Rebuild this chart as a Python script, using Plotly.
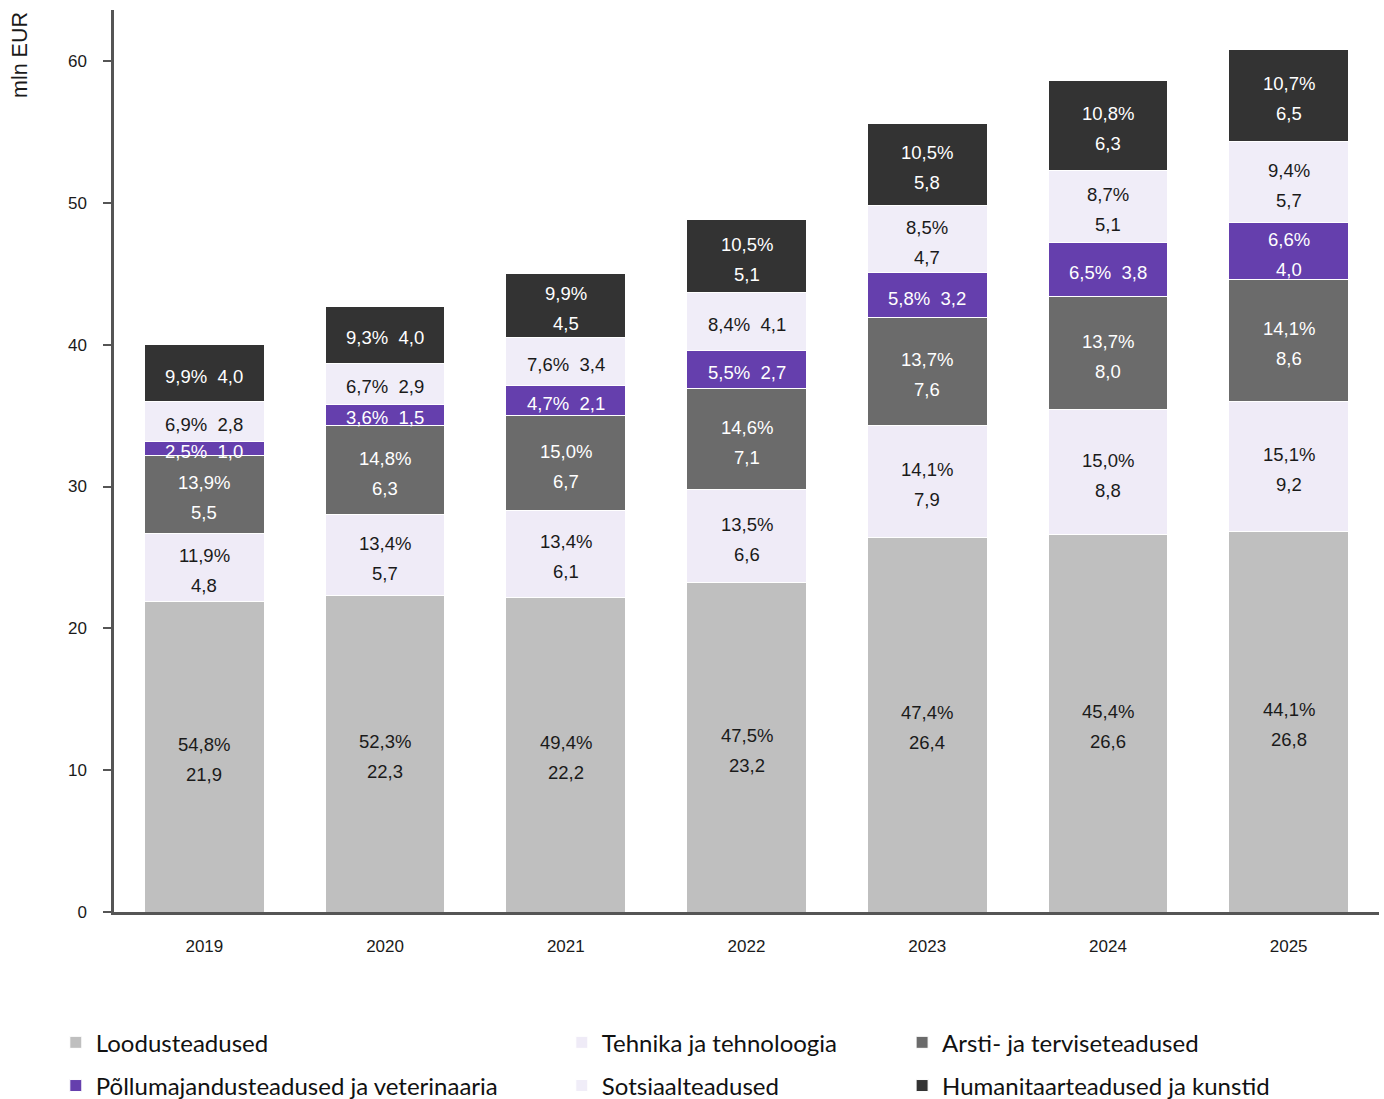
import plotly.graph_objects as go
import numpy as np

years = ["2019", "2020", "2021", "2022", "2023", "2024", "2025"]

series_names = [
    "Loodusteadused",
    "Tehnika ja tehnoloogia",
    "Arsti- ja terviseteadused",
    "Põllumajandusteadused ja veterinaaria",
    "Sotsiaalteadused",
    "Humanitaarteadused ja kunstid",
]

loodus_val = [21.9, 22.3, 22.2, 23.2, 26.4, 26.6, 26.8]
loodus_pct = [54.8, 52.3, 49.4, 47.5, 47.4, 45.4, 44.1]
tehnika_val = [4.8, 5.7, 6.1, 6.6, 7.9, 8.8, 9.2]
tehnika_pct = [11.9, 13.4, 13.4, 13.5, 14.1, 15.0, 15.1]
arsti_val = [5.5, 6.3, 6.7, 7.1, 7.6, 8.0, 8.6]
arsti_pct = [13.9, 14.8, 15.0, 14.6, 13.7, 13.7, 14.1]
pollu_val = [1.0, 1.5, 2.1, 2.7, 3.2, 3.8, 4.0]
pollu_pct = [2.5, 3.6, 4.7, 5.5, 5.8, 6.5, 6.6]
sots_val = [2.8, 2.9, 3.4, 4.1, 4.7, 5.1, 5.7]
sots_pct = [6.9, 6.7, 7.6, 8.4, 8.5, 8.7, 9.4]
hum_val = [4.0, 4.0, 4.5, 5.1, 5.8, 6.3, 6.5]
hum_pct = [9.9, 9.3, 9.9, 10.5, 10.5, 10.8, 10.7]

values = [loodus_val, tehnika_val, arsti_val, pollu_val, sots_val, hum_val]
pcts = [loodus_pct, tehnika_pct, arsti_pct, pollu_pct, sots_pct, hum_pct]

# segments whose label is written on one line (series index, year)
inline_labels = {(3, "2019"), (4, "2019"), (5, "2019"),
                 (3, "2020"), (4, "2020"), (5, "2020"),
                 (3, "2021"), (4, "2021"),
                 (3, "2022"), (4, "2022"),
                 (3, "2023"), (3, "2024")}

colors = ["#bfbfbf", "#efebf7", "#6b6b6b", "#653fad", "#f0edf8", "#333333"]
text_colors = ["#1a1a1a", "#1a1a1a", "#ffffff", "#ffffff", "#1a1a1a", "#ffffff"]
legend_ids = ["legend", "legend2", "legend3", "legend", "legend2", "legend3"]

def fmt(v):
    return f"{v:.1f}".replace(".", ",")

xpos = list(range(len(years)))

fig = go.Figure()
for i, name in enumerate(series_names):
    fig.add_trace(go.Bar(
        x=xpos, y=values[i], name=name,
        marker=dict(color=colors[i], line=dict(color="#ffffff", width=1)),
        legend=legend_ids[i], legendgroup=f"g{i}",
        hoverinfo="skip",
    ))

# labels
base = np.zeros(len(years))
annotations = []
for i in range(len(series_names)):
    v = np.array(values[i])
    mid = base + v / 2
    for j, yr in enumerate(years):
        p = fmt(pcts[i][j]) + "%"
        val = fmt(values[i][j])
        font = dict(family="Liberation Sans, Arial, sans-serif", size=18.5, color=text_colors[i])
        if (i, yr) in inline_labels:
            annotations.append(dict(x=xpos[j], y=float(mid[j]), xref="x", yref="y", yshift=-3,
                                    text=p + "\u00a0\u00a0" + val, showarrow=False, font=font))
        else:
            annotations.append(dict(x=xpos[j], y=float(mid[j]), xref="x", yref="y", yshift=12,
                                    text=p, showarrow=False, font=font))
            annotations.append(dict(x=xpos[j], y=float(mid[j]), xref="x", yref="y", yshift=-18,
                                    text=val, showarrow=False, font=font))
    base = base + v

annotations.append(dict(text="mln EUR", x=-0.0743, y=1.0, xref="paper", yref="paper",
                        xanchor="center", yanchor="top", textangle=-90, showarrow=False,
                        font=dict(family="Liberation Sans, Arial, sans-serif", size=21.5, color="#1a1a1a")))

legend_font = dict(family="Lato, Noto Sans, sans-serif", size=24, color="#111111")
leg_common = dict(orientation="v", traceorder="grouped", yanchor="top", xanchor="left",
                  font=legend_font, itemwidth=30, tracegroupgap=9, bgcolor="rgba(0,0,0,0)")

fig.update_layout(
    width=1384, height=1099,
    margin=dict(l=114, r=5, t=10, b=187, autoexpand=False),
    paper_bgcolor="white", plot_bgcolor="white",
    barmode="stack", bargap=0.337,
    showlegend=True,
    legend=dict(x=-0.046, y=-0.120, **leg_common),
    legend2=dict(x=0.354, y=-0.120, **leg_common),
    legend3=dict(x=0.623, y=-0.120, **leg_common),
    annotations=annotations,
    xaxis=dict(range=[-0.5, 6.5], tickmode="array", tickvals=xpos, ticktext=years,
               showline=True, linecolor="#555555", linewidth=2.5, ticks="",
               showgrid=False, zeroline=False,
               tickfont=dict(family="Liberation Sans, Arial, sans-serif", size=17, color="#1a1a1a"),
               ticklabelstandoff=17),
    yaxis=dict(range=[0, 63.6], dtick=10, showline=True, linecolor="#555555", linewidth=2.5,
               ticks="outside", ticklen=8, tickwidth=2, tickcolor="#555555", showgrid=False,
               zeroline=False,
               tickfont=dict(family="Liberation Sans, Arial, sans-serif", size=17, color="#1a1a1a"),
               ticklabelstandoff=13),
)

fig.write_html("out.html", config={"displayModeBar": False},
               post_script="document.body.style.margin='0';document.body.style.overflow='hidden';")
